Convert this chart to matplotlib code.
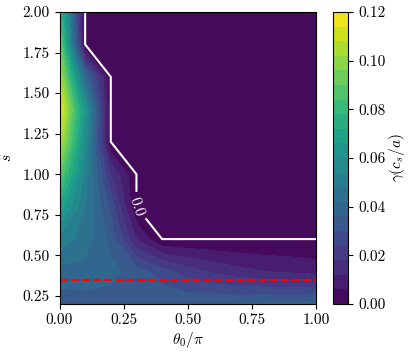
import numpy as np
import matplotlib
matplotlib.use("Agg")
import matplotlib.pyplot as plt

plt.rcParams["font.family"] = "serif"
plt.rcParams["font.serif"] = ["cmr10"]
plt.rcParams["mathtext.fontset"] = "cm"
plt.rcParams["axes.formatter.use_mathtext"] = True
plt.rcParams["font.size"] = 11

# theta_0/pi grid and s-hat grid
theta_vals = [0.0, 0.1, 0.2, 0.3, 0.4, 0.5, 0.6, 0.7, 0.8, 0.9, 1.0]
shat_vals = [0.2, 0.4, 0.6, 0.8, 1.0, 1.2, 1.4, 1.6, 1.8, 2.0]

# growth rate gamma (c_s/a), one row per s-hat value
g_s020 = [0.032, 0.033, 0.033, 0.034, 0.035, 0.035, 0.036, 0.036, 0.037, 0.037, 0.038]
g_s040 = [0.040, 0.040, 0.038, 0.033, 0.027, 0.021, 0.017, 0.014, 0.012, 0.011, 0.0096]
g_s060 = [0.052, 0.045, 0.034, 0.012, 0, 0, 0, 0, 0, 0, 0]
g_s080 = [0.070, 0.048, 0.028, 0, 0, 0, 0, 0, 0, 0, 0]
g_s100 = [0.090, 0.052, 0.018, 0, 0, 0, 0, 0, 0, 0, 0]
g_s120 = [0.108, 0.058, 0, 0, 0, 0, 0, 0, 0, 0, 0]
g_s140 = [0.118, 0.062, 0, 0, 0, 0, 0, 0, 0, 0, 0]
g_s160 = [0.106, 0.040, 0, 0, 0, 0, 0, 0, 0, 0, 0]
g_s180 = [0.094, 0, 0, 0, 0, 0, 0, 0, 0, 0, 0]
g_s200 = [0.080, 0, 0, 0, 0, 0, 0, 0, 0, 0, 0]

# reference s-hat value (red dashed line)
shat_ref = 0.345

gamma = np.array([g_s020, g_s040, g_s060, g_s080, g_s100,
                  g_s120, g_s140, g_s160, g_s180, g_s200])
T, S = np.meshgrid(theta_vals, shat_vals)

fig = plt.figure(figsize=(4.09, 3.52), dpi=100)
ax = fig.add_axes([0.1455, 0.1364, 0.627, 0.8295])
cax = fig.add_axes([0.814, 0.1364, 0.038, 0.8295])

levels = np.linspace(0, 0.12, 21)
cf = ax.contourf(T, S, gamma, levels=levels, cmap="viridis")
cs = ax.contour(T, S, gamma, levels=[0.0], colors="white", linewidths=1.5)
ax.clabel(cs, fmt="%.1f", fontsize=11, inline=True, manual=[(0.3, 0.8)])

ax.axhline(shat_ref, color="red", linestyle="--", linewidth=1.5)

ax.set_xlim(0, 1)
ax.set_ylim(0.2, 2.0)
ax.set_xticks([0.0, 0.25, 0.5, 0.75, 1.0])
ax.set_yticks([0.25, 0.5, 0.75, 1.0, 1.25, 1.5, 1.75, 2.0])
ax.xaxis.set_major_formatter(matplotlib.ticker.FormatStrFormatter("%.2f"))
ax.yaxis.set_major_formatter(matplotlib.ticker.FormatStrFormatter("%.2f"))
ax.set_xlabel(r"$\theta_0/\pi$", labelpad=2)
ax.set_ylabel(r"$\hat{s}$", labelpad=5)

cb = fig.colorbar(cf, cax=cax)
cb.set_ticks([0.0, 0.02, 0.04, 0.06, 0.08, 0.10, 0.12])
cb.ax.yaxis.set_major_formatter(matplotlib.ticker.FormatStrFormatter("%.2f"))
cb.set_label(r"$\gamma(c_s/a)$", labelpad=1)

fig.savefig("out.png", dpi=100)
